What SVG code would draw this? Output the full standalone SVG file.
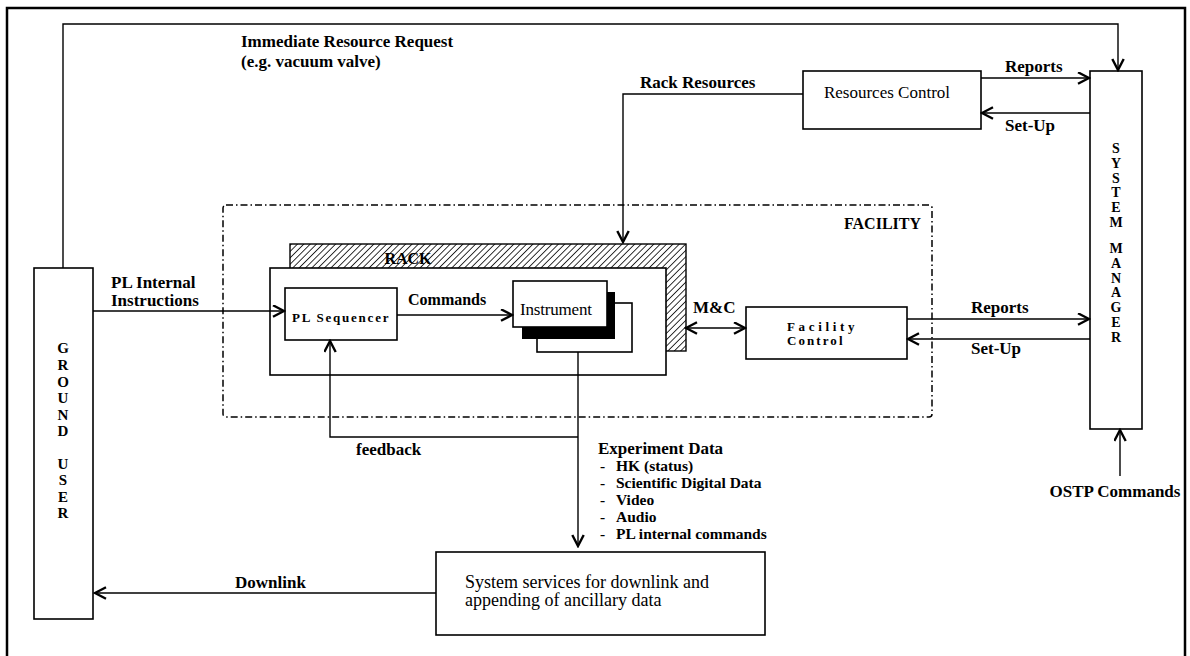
<svg xmlns="http://www.w3.org/2000/svg" width="1190" height="656" viewBox="0 0 1190 656">
<style>
  text { font-family: "Liberation Serif", "Times New Roman", serif; fill: #000; }
  .b { font-weight: bold; font-size: 17px; }
  .li { font-weight: bold; font-size: 15.5px; }
  .n { font-size: 17px; }
  .sp { font-weight: bold; font-size: 13px; letter-spacing: 1.5px; }
  .vl { font-weight: bold; font-size: 15px; text-anchor: middle; }
  .vs { font-weight: bold; font-size: 14px; text-anchor: middle; }
  .box { fill: #fff; stroke: #000; stroke-width: 1.6; }
  .ln { fill: none; stroke: #000; stroke-width: 1.4; }
  .arr { marker-end: url(#ah); }
</style>
<defs>
  <marker id="ah" markerUnits="userSpaceOnUse" markerWidth="14" markerHeight="14" refX="12" refY="6.5" orient="auto-start-reverse">
    <path d="M1,0.8 L12,6.5 L1,12.2" fill="none" stroke="#000" stroke-width="2.4" stroke-linejoin="miter"/>
  </marker>
  <pattern id="hatch" width="4.5" height="4.5" patternUnits="userSpaceOnUse" patternTransform="rotate(45)">
    <rect width="4.5" height="4.5" fill="#fff"/>
    <line x1="0" y1="0" x2="0" y2="4.5" stroke="#000" stroke-width="1.6"/>
  </pattern>
</defs>
<rect width="1190" height="656" fill="#fff"/>
<rect id="frame" x="7" y="8" width="1178" height="665" fill="none" stroke="#000" stroke-width="2.5"/>

<g id="facility">
  <rect x="223" y="205" width="709" height="212" rx="3" fill="none" stroke="#000" stroke-width="1.5" stroke-dasharray="7,3,1.5,3"/>
  <text class="b" x="921" y="229" text-anchor="end" style="font-size:16px">FACILITY</text>
</g>

<g id="rack">
  <rect x="290" y="244" width="396" height="107" fill="url(#hatch)" stroke="#000" stroke-width="1.4"/>
  <text class="b" x="408" y="264" text-anchor="middle" style="font-size:16px">RACK</text>
  <rect class="box" x="270" y="268" width="396" height="107"/>
</g>

<g id="pl-sequencer">
  <rect class="box" x="285" y="288" width="112" height="52"/>
  <text class="sp" x="292" y="322" textLength="98" lengthAdjust="spacing">PL Sequencer</text>
</g>

<g id="instrument">
  <rect class="box" x="537" y="303" width="95" height="49"/>
  <rect x="522" y="292" width="93" height="47" fill="#000"/>
  <rect class="box" x="513" y="281" width="94" height="46"/>
  <text class="n" x="520" y="315" textLength="72">Instrument</text>
</g>

<g id="facility-control">
  <rect class="box" x="746" y="307" width="161" height="52"/>
  <text class="sp" x="787" y="331" textLength="69" lengthAdjust="spacing">Facility</text>
  <text class="sp" x="787" y="345" textLength="57" lengthAdjust="spacing">Control</text>
</g>

<g id="resources-control">
  <rect class="box" x="803" y="71" width="178" height="58"/>
  <text class="n" x="887" y="98" text-anchor="middle">Resources Control</text>
</g>

<g id="system-manager">
  <rect class="box" x="1090" y="71" width="52" height="358"/>
  <text class="vs" x="1116" y="153">S</text>
  <text class="vs" x="1116" y="168">Y</text>
  <text class="vs" x="1116" y="183">S</text>
  <text class="vs" x="1116" y="197">T</text>
  <text class="vs" x="1116" y="212">E</text>
  <text class="vs" x="1116" y="227">M</text>
  <text class="vs" x="1116" y="253">M</text>
  <text class="vs" x="1116" y="268">A</text>
  <text class="vs" x="1116" y="283">N</text>
  <text class="vs" x="1116" y="297">A</text>
  <text class="vs" x="1116" y="312">G</text>
  <text class="vs" x="1116" y="327">E</text>
  <text class="vs" x="1116" y="342">R</text>
</g>

<g id="ground-user">
  <rect class="box" x="34" y="268" width="59" height="351"/>
  <text class="vl" x="63" y="353">G</text>
  <text class="vl" x="63" y="370">R</text>
  <text class="vl" x="63" y="387">O</text>
  <text class="vl" x="63" y="403">U</text>
  <text class="vl" x="63" y="420">N</text>
  <text class="vl" x="63" y="436">D</text>
  <text class="vl" x="63" y="469">U</text>
  <text class="vl" x="63" y="485">S</text>
  <text class="vl" x="63" y="502">E</text>
  <text class="vl" x="63" y="518">R</text>
</g>

<g id="system-services">
  <rect class="box" x="436" y="552" width="329" height="83"/>
  <text x="465" y="588" style="font-size:18px" textLength="244">System services for downlink and</text>
  <text x="465" y="606" style="font-size:18px">appending of ancillary data</text>
</g>

<g id="connectors">
  <path class="ln arr" d="M63,268 V24 H1118 V70"/>
  <path class="ln arr" d="M803,94 H623 V242"/>
  <path class="ln arr" d="M981,78 H1089"/>
  <path class="ln arr" d="M1090,113 H982"/>
  <path class="ln arr" d="M93,311 H284"/>
  <path class="ln arr" d="M397,315 H512"/>
  <path class="ln arr" d="M686,328 H745" style="marker-start:url(#ah)"/>
  <path class="ln arr" d="M907,319 H1089"/>
  <path class="ln arr" d="M1090,339 H908"/>
  <path class="ln arr" d="M578,352 V546"/>
  <path class="ln arr" d="M578,437 H330 V341"/>
  <path class="ln arr" d="M436,593 H95"/>
  <path class="ln arr" d="M1120,476 V430"/>
</g>

<g id="labels">
  <text class="b" x="241" y="47">Immediate Resource Request</text>
  <text class="b" x="241" y="67">(e.g. vacuum valve)</text>
  <text class="b" x="640" y="88">Rack Resources</text>
  <text class="b" x="1005" y="72">Reports</text>
  <text class="b" x="1005" y="131">Set-Up</text>
  <text class="b" x="111" y="288">PL Internal</text>
  <text class="b" x="111" y="306">Instructions</text>
  <text class="b" x="408" y="305" style="font-size:16px">Commands</text>
  <text class="b" x="693" y="313">M&amp;C</text>
  <text class="b" x="971" y="313">Reports</text>
  <text class="b" x="971" y="354">Set-Up</text>
  <text class="b" x="356" y="455">feedback</text>
  <text class="b" x="598" y="454">Experiment Data</text>
  <text class="li" x="600" y="471">-</text><text class="li" x="616" y="471">HK (status)</text>
  <text class="li" x="600" y="488">-</text><text class="li" x="616" y="488">Scientific Digital Data</text>
  <text class="li" x="600" y="505">-</text><text class="li" x="616" y="505">Video</text>
  <text class="li" x="600" y="522">-</text><text class="li" x="616" y="522">Audio</text>
  <text class="li" x="600" y="539">-</text><text class="li" x="616" y="539">PL internal commands</text>
  <text class="b" x="235" y="588">Downlink</text>
  <text class="b" x="1115" y="497" text-anchor="middle">OSTP Commands</text>
</g>
</svg>
